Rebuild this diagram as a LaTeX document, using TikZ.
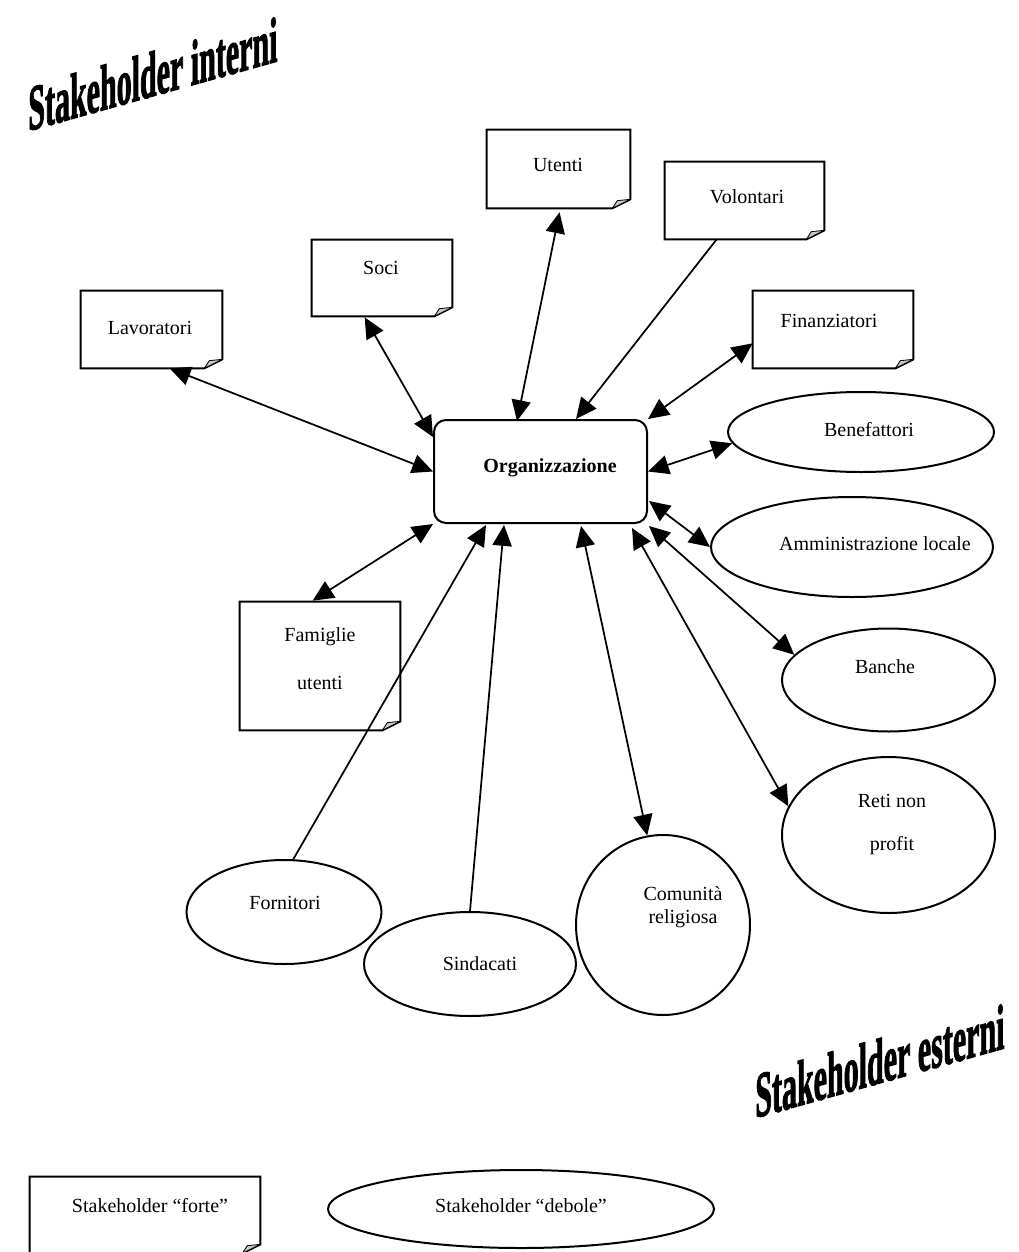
\documentclass[tikz,border=0pt]{standalone}
\usepackage{fontspec}
\setmainfont{Liberation Serif}
\newfontfamily\titlefont[FakeBold=2.2]{Liberation Serif Bold}
\usetikzlibrary{arrows.meta,shapes.geometric,calc}

\tikzset{
  >={Triangle[length=12.5pt,width=11.5pt]},
  conn/.style={line width=1.05pt},
  outline/.style={line width=1.2pt, line join=miter},
  oval/.style={ellipse, draw, line width=1.2pt, inner sep=0pt},
  frame/.style={inner sep=0pt, draw=none},
  lbl/.style={font=\fontsize{12pt}{14pt}\selectfont, inner sep=0pt, align=center},
  title/.style={font=\titlefont\fontsize{18pt}{18pt}\selectfont, anchor=base west,
    inner sep=0pt, transform shape, yslant=0.28, yscale=2.15},
}

% note box with a curled bottom-right corner: name, x1, y1, x2, y2
\newcommand\notebox[5]{%
  \node[frame, minimum width={(#4-#2)*0.6pt}, minimum height={(#5-#3)*0.6pt}]
    (#1) at ({(#2+#4)/2},{(#3+#5)/2}) {};
  \draw[outline] (#1.north west) -- (#1.north east) -- ([yshift=5.4pt]#1.south east)
    -- ([xshift=-10.8pt]#1.south east) -- (#1.south west) -- cycle;
  \filldraw[fill=black!22, line width=0.5pt, line join=round]
    ([xshift=-10.8pt]#1.south east) -- ([xshift=-7.8pt,yshift=4.6pt]#1.south east)
    -- ([yshift=5.4pt]#1.south east) -- cycle;
}

\begin{document}
\begin{tikzpicture}[x=0.6pt, y=-0.6pt]
\useasboundingbox (0,0) rectangle (1019,1252);

% titles
\node[title] (t-int) at (28,131) {Stakeholder interni};
\node[title] (t-est) at (755,1118) {Stakeholder esterni};

% central organisation
\node[draw, outline, rounded corners=7.2pt, minimum width=213*0.6pt,
  minimum height=103*0.6pt, inner sep=0pt] (org) at (540.5,471.5) {};
\node[lbl, font=\fontsize{12pt}{14pt}\selectfont\bfseries] (org-t) at (550,468) {Organizzazione};

% strong stakeholders
\notebox{lav}{81}{291}{222}{368}
\node[lbl] (lav-t) at (150,328) {Lavoratori};
\notebox{soci}{312}{240}{452}{316}
\node[lbl] (soci-t) at (381,268) {Soci};
\notebox{ute}{487}{130}{630}{208}
\node[lbl] (ute-t) at (558,165) {Utenti};
\notebox{vol}{665}{162}{824}{239}
\node[lbl] (vol-t) at (747,197) {Volontari};
\notebox{fin}{753}{291}{913}{368}
\node[lbl] (fin-t) at (829,321) {Finanziatori};
\notebox{fam}{240}{602}{400}{730}
\node[lbl, font=\fontsize{12pt}{28.8pt}\selectfont] (fam-t) at (320,659) {Famiglie\\utenti};

% weak stakeholders
\node[oval, minimum width=266*0.6pt, minimum height=80*0.6pt] (ben) at (861,432) {};
\node[lbl] (ben-t) at (869,430) {Benefattori};
\node[oval, minimum width=282*0.6pt, minimum height=100*0.6pt] (amm) at (852,547) {};
\node[lbl] (amm-t) at (875,544) {Amministrazione locale};
\node[oval, minimum width=213*0.6pt, minimum height=103*0.6pt] (ban) at (888.5,680) {};
\node[lbl] (ban-t) at (885,667) {Banche};
\node[oval, minimum width=213*0.6pt, minimum height=156*0.6pt] (reti) at (888.5,835) {};
\node[lbl, font=\fontsize{12pt}{25.8pt}\selectfont] (reti-t) at (892,824) {Reti non\\profit};
\node[oval, minimum width=174*0.6pt, minimum height=180*0.6pt] (com) at (663,925) {};
\node[lbl] (com-t) at (683,907) {Comunità\\religiosa};
\node[oval, minimum width=195*0.6pt, minimum height=104*0.6pt] (forn) at (284,912) {};
\node[lbl] (forn-t) at (285,903) {Fornitori};
\node[oval, minimum width=212*0.6pt, minimum height=104*0.6pt] (sind) at (470,964) {};
\node[lbl] (sind-t) at (480,964) {Sindacati};

% connectors
\draw[conn,<->] ($(lav.south west)+(89,0)$) -- (org.west);
\draw[conn,<->] ($(soci.south west)+(53,1)$) -- ($(org.north west)+(0,18)$);
\draw[conn,<->] ($(ute.south)+(1,4)$) -- ($(org.north west)+(84,2)$);
\draw[conn,->] ($(vol.south west)+(52,0)$) -- ($(org.north west)+(143,0)$);
\draw[conn,<->] ($(fin.south west)+(0,-25)$) -- (org.north east);
\draw[conn,<->] (ben.185) -- (org.east);
\draw[conn,<->] (amm.west) -- ($(org.south east)+(1,-23)$);
\draw[conn,<->] (ban.165) -- ($(org.south east)+(1,2)$);
\draw[conn,<->] (reti.164) -- ($(org.south east)+(-16,4)$);
\draw[conn,<->] (com.100) -- ($(org.south west)+(148,2)$);
\draw[conn,->] (sind.north) -- ($(org.south west)+(71,1)$);
\draw[conn,->] (forn.80) -- ($(org.south west)+(53,1)$);
\draw[conn,<->] ($(fam.north west)+(73,-1)$) -- (org.south west);

% legend
\notebox{leg-f}{30}{1177}{260}{1253}
\node[lbl] (leg-f-t) at (150,1206) {Stakeholder “forte”};
\node[oval, minimum width=386*0.6pt, minimum height=78*0.6pt] (leg-d) at (521,1209) {};
\node[lbl] (leg-d-t) at (521,1206) {Stakeholder “debole”};
\end{tikzpicture}
\end{document}
